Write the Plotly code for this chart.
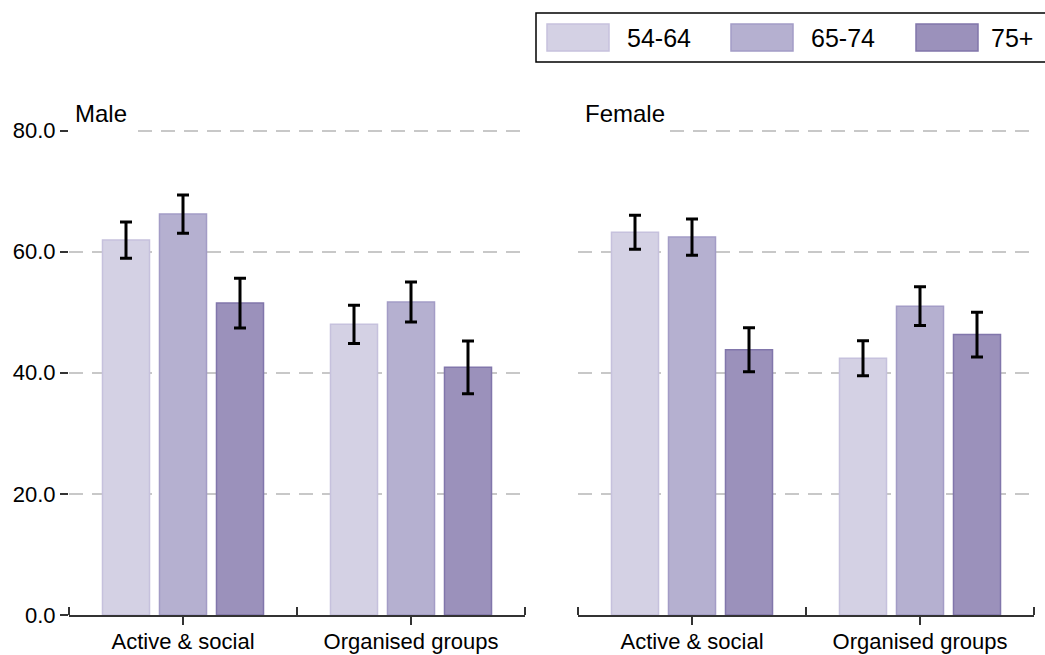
import plotly.graph_objects as go

# ---------------- data ----------------
categories = ["Active & social", "Organised groups"]
age_groups = ["54-64", "65-74", "75+"]
panels = ["Male", "Female"]

male_values = {
    "54-64": [61.9, 48.0],
    "65-74": [66.2, 51.7],
    "75+":   [51.5, 40.9],
}
male_errors = {
    "54-64": [3.0, 3.15],
    "65-74": [3.15, 3.3],
    "75+":   [4.1, 4.35],
}
female_values = {
    "54-64": [63.2, 42.4],
    "65-74": [62.4, 51.0],
    "75+":   [43.8, 46.3],
}
female_errors = {
    "54-64": [2.8, 2.9],
    "65-74": [3.0, 3.2],
    "75+":   [3.65, 3.7],
}
y_ticks = [0, 20, 40, 60, 80]
y_max = 80.5

# ---------------- styles ----------------
fills = {"54-64": "#D4D1E4", "65-74": "#B5B0D0", "75+": "#9B91BB"}
edges = {"54-64": "#C6C1DD", "65-74": "#A39CC6", "75+": "#8176AB"}
FONT = "Liberation Sans, Arial, sans-serif"
W, H = 1045, 655
PX_PER_UNIT = (615 - 130.5) / 80.0


def px_x(p):
    return p / W


def px_y(p):
    return 1 - p / H


x_pos = list(range(len(categories)))

fig = go.Figure()
panel_data = [(male_values, male_errors, "x", "y"), (female_values, female_errors, "x2", "y2")]
for vals, errs, xa, ya in panel_data:
    for ag in age_groups:
        fig.add_trace(go.Bar(
            x=x_pos, y=vals[ag], name=ag, xaxis=xa, yaxis=ya,
            marker=dict(color=fills[ag], line=dict(color=edges[ag], width=1.5)),
            error_y=dict(type="data", array=errs[ag], color="black", thickness=3, width=6),
            showlegend=False,
        ))

y_dom = [px_y(615), px_y(615 - y_max * PX_PER_UNIT)]
x_doms = [[px_x(69), px_x(525)], [px_x(578), px_x(1034)]]

axis_common = dict(
    range=[-0.5, len(categories) - 0.5], tickmode="array", tickvals=x_pos, ticktext=categories,
    showline=True, linecolor="#333333", linewidth=2, ticks="outside", ticklen=8, tickwidth=2,
    tickcolor="#333333", tickfont=dict(size=22, color="black", family=FONT), showgrid=False,
    zeroline=False, fixedrange=True, automargin=False, ticklabelstandoff=-2,
    minor=dict(tickmode="array", tickvals=[i - 0.5 for i in range(len(categories) + 1)],
               ticks="inside", ticklen=8, tickwidth=2, tickcolor="#333333", showgrid=False),
)
ygrid = dict(range=[0, y_max], tickmode="array", tickvals=y_ticks, showgrid=True, gridcolor="#C8C8C8",
             gridwidth=1.5, griddash="14px,9px", zeroline=False, showline=False, fixedrange=True,
             automargin=False)

fig.update_layout(
    width=W, height=H, margin=dict(l=0, r=0, t=0, b=0, autoexpand=False),
    paper_bgcolor="white", plot_bgcolor="white",
    barmode="group", bargap=0.25, bargroupgap=0.175,
    font=dict(family=FONT, color="black"),
    xaxis=dict(domain=x_doms[0], anchor="y", **axis_common),
    xaxis2=dict(domain=x_doms[1], anchor="y2", **axis_common),
    yaxis=dict(domain=y_dom, anchor="x", ticks="outside", ticklen=8, tickwidth=2, tickcolor="#333333",
               tickformat=".1f", tickfont=dict(size=22, color="black", family=FONT), **ygrid),
    yaxis2=dict(domain=y_dom, anchor="x2", ticks="", showticklabels=False, **ygrid),
)

# panel titles; a white strip hides the start of the top gridline behind each title
title_text_left = [73, 583]
title_cover_right = [137, 670]
for name, dom, tx, cr in zip(panels, x_doms, title_text_left, title_cover_right):
    fig.add_shape(type="rect", xref="paper", yref="paper", x0=dom[0], x1=px_x(cr),
                  y0=px_y(136), y1=px_y(124), fillcolor="white", line=dict(width=0), layer="above")
    fig.add_annotation(
        text=name, xref="paper", yref="paper", x=px_x(tx), y=px_y(113),
        xanchor="left", yanchor="middle", showarrow=False,
        font=dict(size=24, color="black", family=FONT),
    )

# legend box
fig.add_shape(type="rect", xref="paper", yref="paper", x0=px_x(536), x1=px_x(1060),
              y0=px_y(62), y1=px_y(13), line=dict(color="black", width=1.5), fillcolor="white")
swatch_left = [547, 731, 916]
label_left = [625, 809, 989]
for ag, sx, lx in zip(age_groups, swatch_left, label_left):
    fig.add_shape(type="rect", xref="paper", yref="paper", x0=px_x(sx), x1=px_x(sx + 62),
                  y0=px_y(51), y1=px_y(24), line=dict(color=edges[ag], width=1.5), fillcolor=fills[ag])
    fig.add_annotation(text=ag, xref="paper", yref="paper", x=px_x(lx), y=px_y(37.5),
                       xanchor="left", yanchor="middle", showarrow=False,
                       font=dict(size=25, color="black", family=FONT))

fig.write_html("out.html", config={"displayModeBar": False},
               post_script="document.body.style.margin='0';document.body.style.overflow='hidden';")
